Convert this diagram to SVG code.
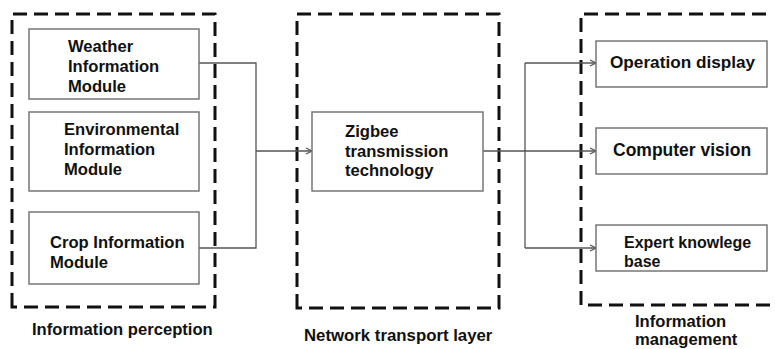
<svg xmlns="http://www.w3.org/2000/svg" width="775" height="349" viewBox="0 0 775 349">
  <defs>
    <marker id="arrow" markerWidth="8" markerHeight="8" refX="7" refY="4" orient="auto" markerUnits="userSpaceOnUse">
      <path d="M1,1 L7,4 L1,7" fill="none" stroke="#555" stroke-width="1.2"/>
    </marker>
  </defs>
  <style>
    .layer { fill: none; stroke: #111; stroke-width: 3; stroke-dasharray: 14 7; }
    .box { fill: #fff; stroke: #777; stroke-width: 1.5; }
    .lbl { font-family: "Liberation Sans", Arial, sans-serif; font-weight: bold; font-size: 16.6px; fill: #111; }
    .conn { fill: none; stroke: #555; stroke-width: 1.3; }
  </style>
  <rect width="775" height="349" fill="#fff"/>

  <!-- layer frames -->
  <g id="layer-perception">
    <path class="layer" d="M12,307 L12,14 L215,14 L215,307 Z"/>
    <text class="lbl" x="32" y="335">Information perception</text>
  </g>
  <g id="layer-network">
    <path class="layer" d="M297,308 L297,14 L499,14 L499,308 Z"/>
    <text class="lbl" x="304" y="341" style="font-size:16.8px">Network transport layer</text>
  </g>
  <g id="layer-management">
    <path class="layer" d="M770,305 L581,305 L581,14 L770,14"/>
    <text class="lbl" x="635" y="327">Information</text>
    <text class="lbl" x="635" y="345">management</text>
  </g>

  <!-- connectors -->
  <g id="connectors">
    <path class="conn" d="M199,63 L256,63 L256,248 L199,248"/>
    <path class="conn" d="M256,151 L312,151" marker-end="url(#arrow)"/>
    <path class="conn" d="M483,151 L525,151"/>
    <path class="conn" d="M525,63 L525,248"/>
    <path class="conn" d="M525,63 L596,63" marker-end="url(#arrow)"/>
    <path class="conn" d="M525,151 L596,151" marker-end="url(#arrow)"/>
    <path class="conn" d="M525,248 L596,248" marker-end="url(#arrow)"/>
  </g>

  <!-- perception modules -->
  <g id="weather">
    <rect class="box" x="29" y="29" width="170" height="70"/>
    <text class="lbl" x="68" y="52">Weather</text>
    <text class="lbl" x="68" y="72">Information</text>
    <text class="lbl" x="68" y="92">Module</text>
  </g>
  <g id="environmental">
    <rect class="box" x="29" y="112" width="170" height="79"/>
    <text class="lbl" x="64" y="135">Environmental</text>
    <text class="lbl" x="64" y="155">Information</text>
    <text class="lbl" x="64" y="175">Module</text>
  </g>
  <g id="crop">
    <rect class="box" x="29" y="212" width="170" height="72"/>
    <text class="lbl" x="50" y="248">Crop Information</text>
    <text class="lbl" x="50" y="268">Module</text>
  </g>

  <!-- network -->
  <g id="zigbee">
    <rect class="box" x="312" y="112" width="171" height="79"/>
    <text class="lbl" x="345" y="137">Zigbee</text>
    <text class="lbl" x="345" y="157">transmission</text>
    <text class="lbl" x="345" y="176">technology</text>
  </g>

  <!-- management -->
  <g id="display">
    <rect class="box" x="596" y="41" width="171" height="46"/>
    <text class="lbl" x="610" y="68" style="font-size:17.2px">Operation display</text>
  </g>
  <g id="vision">
    <rect class="box" x="596" y="128" width="171" height="46"/>
    <text class="lbl" x="613" y="156" style="font-size:17.5px">Computer vision</text>
  </g>
  <g id="expert">
    <rect class="box" x="596" y="225" width="171" height="46"/>
    <text class="lbl" x="624" y="248" style="font-size:16px">Expert knowlege</text>
    <text class="lbl" x="624" y="267" style="font-size:16px">base</text>
  </g>
</svg>
